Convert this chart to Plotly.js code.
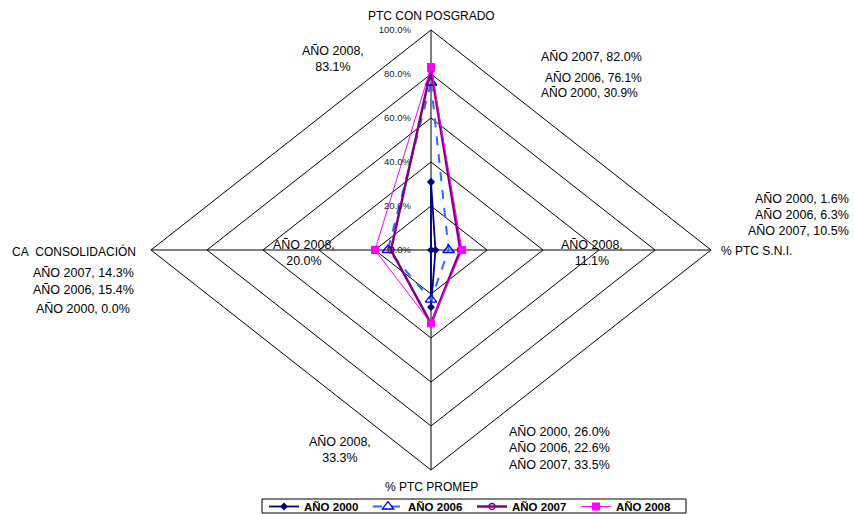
<!DOCTYPE html>
<html>
<head>
<meta charset="utf-8">
<script src="https://cdn.plot.ly/plotly-3.0.1.min.js"></script>
<style>html,body{margin:0;padding:0;background:#fff;}#chart{width:854px;height:514px;}</style>
</head>
<body>
<div id="chart"></div>
<script>
// ---- DATA ----
const categories = ['PTC CON POSGRADO', '% PTC S.N.I.', '% PTC PROMEP', 'CA\u00a0 CONSOLIDACIÓN'];
const seriesNames = ['AÑO 2000', 'AÑO 2006', 'AÑO 2007', 'AÑO 2008'];
const values2000 = [30.9, 1.6, 26.0, 0.0];
const values2006 = [76.1, 6.3, 22.6, 15.4];
const values2007 = [82.0, 10.5, 33.5, 14.3];
const values2008 = [83.1, 11.1, 33.3, 20.0];
const tickValues = [0, 20, 40, 60, 80, 100];
const tickLabels = ['0.0%', '20.0%', '40.0%', '60.0%', '80.0%', '100.0%'];

// ---- GEOMETRY (radar axes, clockwise from top) ----
const W = 854, H = 514;
const angles = [90, 0, -90, 180].map(a => a * Math.PI / 180);
const cx = 431, cy = 250, rx = 280, ry = 220; // px centre and radius of 100%
const rMax = tickValues[tickValues.length - 1];
const FONT = 'Liberation Sans, Arial, sans-serif';

function toXY(vals) {
  const x = [], y = [];
  vals.forEach((v, i) => { x.push(v * Math.cos(angles[i])); y.push(v * Math.sin(angles[i])); });
  x.push(x[0]); y.push(y[0]);
  return {x, y};
}

const traces = [];
// grid diamonds
tickValues.filter(t => t > 0).forEach(t => {
  const p = toXY(categories.map(() => t));
  traces.push({type: 'scatter', mode: 'lines', x: p.x, y: p.y, line: {color: '#000', width: 1},
    hoverinfo: 'skip', showlegend: false});
});
// spokes
angles.forEach(a => {
  traces.push({type: 'scatter', mode: 'lines', x: [0, rMax * Math.cos(a)], y: [0, rMax * Math.sin(a)],
    line: {color: '#000', width: 1}, hoverinfo: 'skip', showlegend: false});
});

const styles = [
  {line: {color: '#000080', width: 1.8}, marker: {symbol: 'diamond', size: 6, color: '#000080'}},
  {line: {color: '#3366FF', width: 2, dash: 'dash'}, marker: {symbol: 'triangle-up-open', size: 10, color: '#0000FF', line: {width: 1.3}}},
  {line: {color: '#800080', width: 2.5}, marker: {symbol: 'circle-open', size: 6, color: '#800080', line: {width: 1.3}}},
  {line: {color: '#FF00FF', width: 1}, marker: {symbol: 'square', size: 8, color: '#FF00FF'}}
];
const allValues = [values2000, values2006, values2007, values2008];
allValues.forEach((vals, k) => {
  const p = toXY(vals);
  traces.push(Object.assign({type: 'scatter', mode: 'lines+markers', name: seriesNames[k], x: p.x, y: p.y,
    hoverinfo: 'name+text', text: vals.concat([vals[0]]).map(v => v.toFixed(1) + '%')}, styles[k]));
});

// ---- ANNOTATIONS ----
const px = x => x / W, py = y => 1 - y / H;
const ann = [];
function label(text, x, y, xanchor, size) {
  ann.push({text, x: px(x), y: py(y), xref: 'paper', yref: 'paper', showarrow: false,
    xanchor: xanchor || 'center', yanchor: 'middle', align: xanchor === 'right' ? 'right' : (xanchor === 'left' ? 'left' : 'center'),
    font: {family: FONT, size: size || 12.5, color: '#000'}});
}
const fmt = (k, v) => seriesNames[k] + ', ' + v.toFixed(1) + '%';
const fmt2 = (k, v) => seriesNames[k] + ',<br>' + v.toFixed(1) + '%';

// category labels
label(categories[0], 431, 16, 'center', 12);
label(categories[1], 719, 251, 'left', 12);
label(categories[2], 431, 487, 'center', 12);
label(categories[3], 10, 251, 'left', 12);

// top (category 0)
label(fmt2(3, values2008[0]), 333, 59);
label(fmt(2, values2007[0]), 591, 57);
label(fmt(1, values2006[0]), 593, 78, 'center', 12);
label(fmt(0, values2000[0]), 589, 93, 'center', 12);
// right (category 1)
label(fmt(0, values2000[1]), 851, 199, 'right');
label(fmt(1, values2006[1]), 851, 215, 'right');
label(fmt(2, values2007[1]), 851, 231, 'right');
label(fmt2(3, values2008[1]), 592, 253);
// bottom (category 2)
label(fmt(0, values2000[2]), 612, 432, 'right');
label(fmt(1, values2006[2]), 612, 448, 'right');
label(fmt(2, values2007[2]), 612, 465, 'right');
label(fmt2(3, values2008[2]), 340, 450);
// left (category 3)
label(fmt(2, values2007[3]), 83, 273);
label(fmt(1, values2006[3]), 83, 290);
label(fmt(0, values2000[3]), 83, 309);
label(fmt2(3, values2008[3]), 304, 253);

const layout = {
  width: W, height: H,
  margin: {l: 0, r: 0, t: 0, b: 0, pad: 0, autoexpand: false},
  paper_bgcolor: '#fff', plot_bgcolor: '#fff',
  xaxis: {range: [-cx / rx * rMax, (W - cx) / rx * rMax], visible: false, fixedrange: true},
  yaxis: {range: [-(H - cy) / ry * rMax, cy / ry * rMax], showgrid: false, zeroline: false, showline: false,
    tickvals: tickValues, ticktext: tickLabels, ticks: '', anchor: 'free', position: cx / W,
    ticklabelstandoff: 20, tickfont: {family: FONT, size: 9.5, color: '#222'}, fixedrange: true},
  showlegend: true,
  legend: {orientation: 'h', x: 472 / W, xanchor: 'center', y: py(492), yanchor: 'top',
    entrywidth: 59, entrywidthmode: 'pixels',
    borderwidth: 0, bgcolor: 'rgba(0,0,0,0)',
    font: {family: FONT, size: 11.5, weight: 'bold', color: '#000'}},
  shapes: [{type: 'rect', xref: 'paper', yref: 'paper', x0: px(262), x1: px(686), y0: py(499), y1: py(513),
    line: {color: '#000', width: 1}, fillcolor: 'rgba(0,0,0,0)', layer: 'below'}],
  annotations: ann
};
Plotly.newPlot('chart', traces, layout, {displayModeBar: false, staticPlot: true});
</script>
</body>
</html>
